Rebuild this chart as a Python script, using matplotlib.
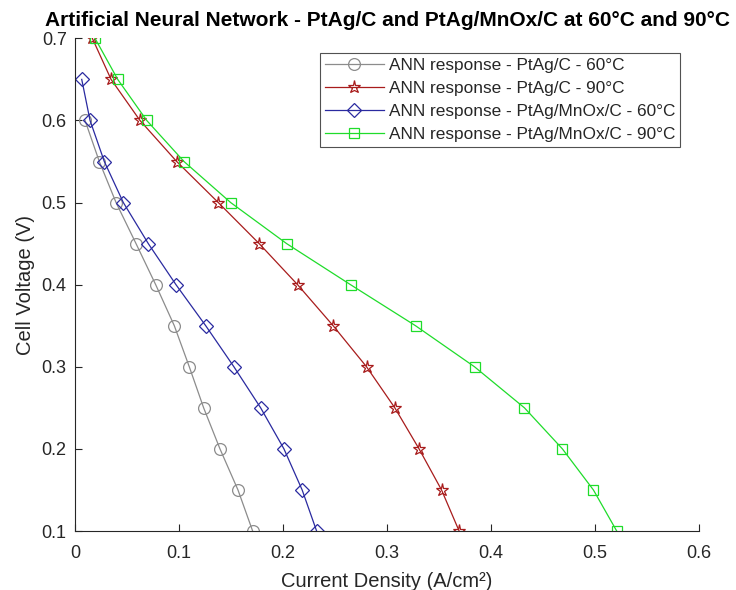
import matplotlib
matplotlib.use("Agg")
import matplotlib.pyplot as plt

# cell voltage steps (V)
v_ptag_60 = [0.6, 0.55, 0.5, 0.45, 0.4, 0.35, 0.3, 0.25, 0.2, 0.15, 0.1]
v_mnox_60 = [0.65, 0.6, 0.55, 0.5, 0.45, 0.4, 0.35, 0.3, 0.25, 0.2, 0.15, 0.1]
v_90 = [0.7, 0.65, 0.6, 0.55, 0.5, 0.45, 0.4, 0.35, 0.3, 0.25, 0.2, 0.15, 0.1]

# ANN predicted current density (A/cm2)
j_ptag_60 = [0.0096, 0.0233, 0.0394, 0.0586, 0.0775, 0.0954, 0.1098, 0.1236, 0.1393, 0.1566, 0.1707]
j_ptag_90 = [0.0166, 0.0346, 0.0624, 0.0977, 0.1377, 0.177, 0.2139, 0.2481, 0.2802, 0.3074, 0.3307, 0.3523, 0.3692]
j_mnox_60 = [0.0064, 0.0144, 0.0281, 0.0464, 0.0704, 0.097, 0.1256, 0.1527, 0.1784, 0.2008, 0.2183, 0.2322]
j_mnox_90 = [0.0192, 0.041, 0.0689, 0.1047, 0.1496, 0.2034, 0.2648, 0.3273, 0.384, 0.432, 0.4685, 0.4983, 0.5207]

labels = ["ANN response - PtAg/C - 60°C", "ANN response - PtAg/C - 90°C",
          "ANN response - PtAg/MnOx/C - 60°C", "ANN response - PtAg/MnOx/C - 90°C"]

plt.rcParams["font.family"] = ["Liberation Sans", "DejaVu Sans"]
txt = "#262626"

fig = plt.figure(figsize=(7.36, 5.9), dpi=100)
ax = fig.add_axes([0.102, 0.10, 0.848, 0.835])

ax.plot(j_ptag_60, v_ptag_60, "-o", color="#8c8c8c", lw=0.9, ms=8.5, mfc="none", mew=0.9, label=labels[0])
ax.plot(j_ptag_90, v_90, "-*", color="#a81c1c", lw=0.9, ms=9.5, mfc="none", mew=0.9, label=labels[1])
ax.plot(j_mnox_60, v_mnox_60, "-D", color="#2a2aa0", lw=0.9, ms=6.8, mfc="none", mew=0.9, label=labels[2])
ax.plot(j_mnox_90, v_90, "-s", color="#1fdc2a", lw=0.9, ms=7, mfc="none", mew=0.9, label=labels[3])

ax.set_xlim(0, 0.6)
ax.set_ylim(0.1, 0.7)
ax.set_xticks([0, 0.1, 0.2, 0.3, 0.4, 0.5, 0.6])
ax.set_xticklabels(["0", "0.1", "0.2", "0.3", "0.4", "0.5", "0.6"])
ax.set_yticks([0.1, 0.2, 0.3, 0.4, 0.5, 0.6, 0.7])
ax.set_yticklabels(["0.1", "0.2", "0.3", "0.4", "0.5", "0.6", "0.7"])

for side in ["top", "right"]:
    ax.spines[side].set_visible(False)
for side in ["left", "bottom"]:
    ax.spines[side].set_color(txt)
    ax.spines[side].set_linewidth(0.8)
ax.tick_params(direction="in", length=5, width=0.8, colors=txt, labelsize=13)
ax.tick_params(axis="x", pad=10)
ax.tick_params(axis="y", pad=6)

ax.set_xlabel("Current Density (A/cm²)", fontsize=14.5, color=txt, labelpad=7)
ax.set_ylabel("Cell Voltage (V)", fontsize=14.5, color=txt, labelpad=5)
ax.set_title("Artificial Neural Network - PtAg/C and PtAg/MnOx/C at 60°C and 90°C",
             fontsize=15, fontweight="bold", color="black", pad=9)

leg = ax.legend(loc="upper right", bbox_to_anchor=(0.970, 0.970), borderaxespad=0,
                fontsize=12.4, frameon=True, fancybox=False, edgecolor=txt,
                handlelength=3.4, borderpad=0.3, labelspacing=0.45, handletextpad=0.3)
leg.get_frame().set_linewidth(0.8)
for t in leg.get_texts():
    t.set_color(txt)

fig.savefig("out.png", dpi=100)
